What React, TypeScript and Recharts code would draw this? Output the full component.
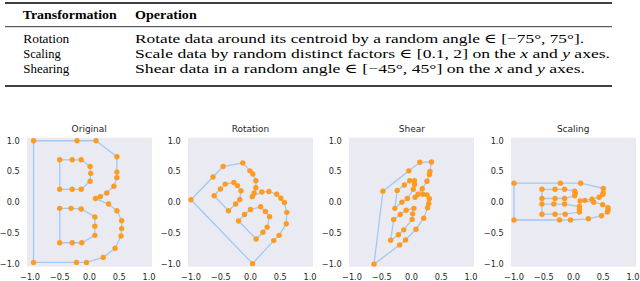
import React from 'react';
import { ComposedChart, Scatter, Line, XAxis, YAxis, CartesianGrid } from 'recharts';

type P = { x: number; y: number };
const pts = (a: number[][]): P[] => a.map(([x, y]) => ({ x, y }));

// ---- Original "B" ----
const originalOuter = pts([
  [-0.94, 1.0], [-0.21, 1.0], [0.11, 1.0], [0.46, 0.74], [0.46, 0.49], [0.46, 0.4],
  [0.41, 0.26], [0.29, 0.15], [0.18, 0.09], [0.1, 0.06], [0.32, -0.03], [0.46, -0.14],
  [0.54, -0.3], [0.54, -0.43], [0.53, -0.55], [0.43, -0.75], [0.23, -0.9], [-0.05, -0.98],
  [-0.22, -0.98], [-0.94, -0.98],
]);
const originalUpper = pts([
  [-0.5, 0.69], [-0.29, 0.69], [-0.14, 0.69], [0.01, 0.58], [0.02, 0.47], [0.01, 0.34],
  [-0.14, 0.21], [-0.29, 0.21], [-0.5, 0.21],
]);
const originalLower = pts([
  [-0.5, -0.1], [-0.31, -0.1], [-0.14, -0.11], [0.09, -0.24], [0.09, -0.39], [0.09, -0.54],
  [-0.13, -0.66], [-0.29, -0.66], [-0.5, -0.66],
]);

// ---- Rotation ----
const rotationOuter = pts([
  [-1.0, 0.04], [-0.63, 0.41], [-0.46, 0.58], [-0.13, 0.64], [-0.01, 0.51], [0.04, 0.46],
  [0.09, 0.35], [0.09, 0.235], [0.06, 0.15], [0.03, 0.09], [0.19, 0.165], [0.31, 0.175],
  [0.44, 0.13], [0.51, 0.065], [0.57, -0.005], [0.61, -0.165], [0.6, -0.35], [0.48, -0.54],
  [0.39, -0.625], [0.035, -1.0],
]);
const rotationUpper = pts([
  [-0.61, 0.105], [-0.505, 0.215], [-0.425, 0.295], [-0.28, 0.32], [-0.22, 0.27], [-0.16, 0.185],
  [-0.18, 0.045], [-0.25, -0.03], [-0.37, -0.14],
]);
const rotationLower = pts([
  [-0.2, -0.305], [-0.1, -0.2], [0.0, -0.12], [0.17, -0.075], [0.25, -0.15], [0.32, -0.235],
  [0.28, -0.405], [0.21, -0.49], [0.095, -0.6],
]);

// ---- Shear ----
const shearOuter = pts([
  [-0.48, 0.18], [-0.045, 0.51], [0.14, 0.65], [0.335, 0.655], [0.31, 0.5], [0.3, 0.45],
  [0.26, 0.34], [0.18, 0.22], [0.11, 0.13], [0.06, 0.08], [0.19, 0.13], [0.26, 0.12],
  [0.3, 0.055], [0.29, -0.02], [0.27, -0.09], [0.205, -0.26], [0.075, -0.44], [-0.1, -0.615],
  [-0.2, -0.695], [-0.63, -1.01],
]);
const shearUpper = pts([
  [-0.24, 0.19], [-0.12, 0.28], [-0.03, 0.35], [0.05, 0.35], [0.05, 0.29], [0.03, 0.21],
  [-0.07, 0.06], [-0.16, 0.0], [-0.28, -0.1],
]);
const shearLower = pts([
  [-0.3, -0.28], [-0.19, -0.2], [-0.09, -0.13], [0.04, -0.1], [0.02, -0.19], [0.01, -0.28],
  [-0.13, -0.45], [-0.22, -0.53], [-0.35, -0.62],
]);

// ---- Scaling ----
const scalingOuter = pts([
  [-1.0, 0.31], [-0.22, 0.31], [0.12, 0.31], [0.5, 0.225], [0.5, 0.15], [0.49, 0.125],
  [0.43, 0.08], [0.31, 0.05], [0.19, 0.03], [0.11, 0.02], [0.34, 0.0], [0.49, -0.04],
  [0.58, -0.09], [0.58, -0.13], [0.57, -0.16], [0.47, -0.22], [0.25, -0.27], [-0.05, -0.29],
  [-0.235, -0.29], [-1.0, -0.29],
]);
const scalingUpper = pts([
  [-0.53, 0.21], [-0.31, 0.21], [-0.15, 0.21], [0.02, 0.18], [0.03, 0.145], [0.02, 0.105],
  [-0.15, 0.06], [-0.31, 0.06], [-0.53, 0.06],
]);
const scalingLower = pts([
  [-0.53, -0.03], [-0.33, -0.03], [-0.15, -0.03], [0.1, -0.07], [0.1, -0.11], [0.1, -0.16],
  [-0.14, -0.195], [-0.31, -0.195], [-0.53, -0.195],
]);

const panelTitles = ['Original', 'Rotation', 'Shear', 'Scaling'];
const panelContours: P[][][] = [
  [originalOuter, originalUpper, originalLower],
  [rotationOuter, rotationUpper, rotationLower],
  [shearOuter, shearUpper, shearLower],
  [scalingOuter, scalingUpper, scalingLower],
];
const axisTicks = [-1, -0.5, 0, 0.5, 1];
const axisDomain: [number, number] = [-1.05, 1.05];

// ---- Table ----
const tableHeader = ['Transformation', 'Operation'];
const tableNames = ['Rotation', 'Scaling', 'Shearing'];

const fmt = (v: number) => (v < 0 ? '\u2212' : '') + Math.abs(v).toFixed(1);

const LINE = '#A1C9F4';
const DOT = '#FF9B21';
const TEXT = '#262626';

const dotShape = (p: any) => <circle cx={p.cx} cy={p.cy} r={2.7} fill={DOT} />;

const tickStyle = { fontSize: 8.2, fill: TEXT, fontFamily: 'DejaVu Sans' };

function Panel({ bgLeft, title, contours }: { bgLeft: number; title: string; contours: P[][] }) {
  const dots = contours.flat();
  return (
    <div style={{ position: 'absolute', left: bgLeft - 30, top: 120, width: 159, height: 161 }}>
      <div
        style={{
          position: 'absolute', left: 30, width: 125, top: 4.4, textAlign: 'center',
          fontFamily: 'DejaVu Sans', fontSize: 9, lineHeight: '10px', color: TEXT,
        }}
      >
        {title}
      </div>
      <ComposedChart width={159} height={161} margin={{ top: 17.7, right: 4, bottom: 0, left: 0 }}>
        <CartesianGrid fill="#EAEAF2" stroke="none" horizontal={false} vertical={false} />
        <XAxis
          type="number" dataKey="x" domain={axisDomain} ticks={axisTicks} tickFormatter={fmt}
          axisLine={false} tickLine={false} tickSize={0} tickMargin={7} height={14.3}
          tick={tickStyle} allowDataOverflow interval={0}
        />
        <YAxis
          type="number" domain={axisDomain} ticks={axisTicks} tickFormatter={fmt}
          axisLine={false} tickLine={false} tickSize={0} tickMargin={7.3} width={30}
          tick={tickStyle} allowDataOverflow interval={0}
        />
        {contours.map((c, i) => (
          <Line
            key={'l' + i}
            data={[...c, c[0]]}
            dataKey="y"
            type="linear"
            stroke={LINE}
            strokeWidth={1.3}
            dot={false}
            activeDot={false}
            isAnimationActive={false}
          />
        ))}
        <Scatter data={dots} dataKey="y" shape={dotShape} isAnimationActive={false} />
      </ComposedChart>
    </div>
  );
}

export default function App() {
  const serif = "'Liberation Serif', 'DejaVu Serif', serif";
  return (
    <div style={{ position: 'absolute', left: 0, top: 0, width: 640, height: 281, background: '#fff', overflow: 'hidden' }}>
      <svg width={640} height={92} style={{ position: 'absolute', left: 0, top: 0, fontFamily: serif, fontSize: 13.5 }}>
        <line x1={5} x2={612} y1={3} y2={3} stroke="#000" strokeWidth={1.3} />
        <text x={22.7} y={19} fontWeight="bold" textLength={94} lengthAdjust="spacingAndGlyphs">{tableHeader[0]}</text>
        <text x={135} y={19} fontWeight="bold" textLength={61.7} lengthAdjust="spacingAndGlyphs">{tableHeader[1]}</text>
        <line x1={5} x2={612} y1={26.7} y2={26.7} stroke="#000" strokeWidth={0.8} />
        <text x={23.3} y={42.7} textLength={46} lengthAdjust="spacingAndGlyphs">{tableNames[0]}</text>
        <text x={23.3} y={57.7} textLength={37.4} lengthAdjust="spacingAndGlyphs">{tableNames[1]}</text>
        <text x={23.3} y={72.7} textLength={46} lengthAdjust="spacingAndGlyphs">{tableNames[2]}</text>
        <text x={135} y={42.7} textLength={449} lengthAdjust="spacingAndGlyphs">
          Rotate data around its centroid by a random angle ∈ [−75°, 75°].
        </text>
        <text x={135} y={57.7} textLength={475} lengthAdjust="spacingAndGlyphs">
          Scale data by random distinct factors ∈ [0.1, 2] on the <tspan fontStyle="italic">x</tspan> and <tspan fontStyle="italic">y</tspan> axes.
        </text>
        <text x={135} y={72.7} textLength={450} lengthAdjust="spacingAndGlyphs">
          Shear data in a random angle ∈ [−45°, 45°] on the <tspan fontStyle="italic">x</tspan> and <tspan fontStyle="italic">y</tspan> axes.
        </text>
        <line x1={5} x2={612} y1={86} y2={86} stroke="#000" strokeWidth={1.3} />
      </svg>
      {panelTitles.map((t, i) => (
        <Panel key={t} bgLeft={26.7 + i * 161.33} title={t} contours={panelContours[i]} />
      ))}
    </div>
  );
}
